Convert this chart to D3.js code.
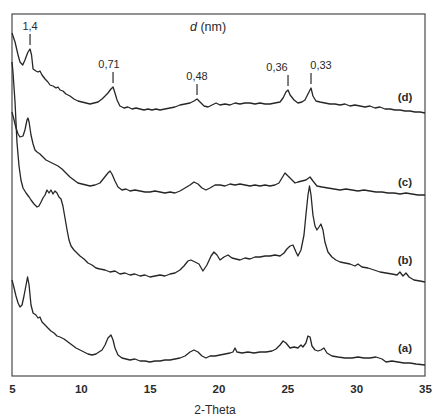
<!DOCTYPE html>
<html>
<head>
<meta charset="utf-8">
<script src="https://cdn.jsdelivr.net/npm/d3@7"></script>
<style>
  body { margin: 0; background: #fff; }
  text { font-family: "Liberation Sans", Arial, sans-serif; fill: #2a2a2a; }
</style>
</head>
<body>
<div id="chart"></div>
<script>
"use strict"

// 2-theta (deg) vs intensity (a.u., traces stacked as in the figure)
const traceA = [[5.00,96],[5.15,88],[5.29,80],[5.44,73],[5.58,69],[5.73,71],[5.87,80],[6.02,91],[6.13,99],[6.24,91],[6.38,71],[6.53,63],[6.74,61],[6.89,58],[7.03,59],[7.18,54],[7.40,51],[7.61,48],[7.83,45],[8.05,43],[8.27,40],[8.49,39],[8.78,37],[9.07,34],[9.36,31],[9.65,28],[9.94,26],[10.23,24],[10.52,22],[10.81,21],[11.10,22],[11.32,24],[11.54,26],[11.76,31],[11.97,38],[12.19,41],[12.34,36],[12.48,28],[12.70,21],[12.99,18],[13.28,17],[13.57,16],[13.93,17],[14.30,15],[14.66,15],[15.02,14],[15.39,15],[15.75,15],[16.11,16],[16.48,16],[16.84,17],[17.20,18],[17.57,20],[17.93,24],[18.22,26],[18.51,24],[18.80,20],[19.09,18],[19.38,20],[19.75,20],[20.11,21],[20.47,22],[20.84,23],[21.05,24],[21.20,28],[21.34,24],[21.71,23],[22.14,24],[22.58,23],[23.01,24],[23.45,24],[23.89,25],[24.18,27],[24.47,31],[24.69,35],[24.90,33],[25.20,28],[25.49,29],[25.77,28],[25.99,31],[26.13,29],[26.35,33],[26.50,40],[26.65,39],[26.79,30],[27.01,26],[27.23,25],[27.44,26],[27.66,28],[27.88,23],[28.24,20],[28.68,19],[29.19,18],[29.70,18],[30.13,19],[30.57,18],[31.00,18],[31.44,19],[31.88,17],[32.17,14],[32.60,15],[33.04,14],[33.47,13],[33.91,13],[34.34,12],[35.00,11]];

const traceB = [[5.00,314],[5.07,304],[5.15,288],[5.22,274],[5.29,254],[5.36,234],[5.44,221],[5.51,210],[5.65,196],[5.80,188],[6.02,183],[6.24,179],[6.38,176],[6.60,172],[6.82,169],[6.96,170],[7.11,174],[7.25,178],[7.40,181],[7.54,186],[7.69,183],[7.83,186],[7.98,182],[8.12,185],[8.27,183],[8.41,179],[8.56,177],[8.70,170],[8.85,158],[9.00,146],[9.14,136],[9.29,130],[9.50,126],[9.72,123],[9.94,120],[10.23,117],[10.52,113],[10.81,111],[11.10,108],[11.39,107],[11.76,106],[12.12,104],[12.48,105],[12.84,102],[13.21,103],[13.57,101],[13.93,102],[14.30,100],[14.66,101],[15.02,99],[15.39,100],[15.75,101],[16.11,100],[16.48,102],[16.84,103],[17.20,106],[17.49,110],[17.78,115],[18.00,116],[18.29,114],[18.58,112],[18.87,105],[19.16,111],[19.46,120],[19.67,124],[19.89,121],[20.11,116],[20.40,119],[20.69,121],[20.98,118],[21.27,117],[21.56,116],[21.92,118],[22.29,117],[22.65,119],[23.01,119],[23.38,120],[23.74,120],[24.10,121],[24.47,120],[24.76,123],[24.97,127],[25.20,130],[25.41,131],[25.63,124],[25.77,120],[25.99,126],[26.21,141],[26.35,161],[26.50,181],[26.61,190],[26.72,181],[26.86,161],[27.01,150],[27.15,146],[27.30,149],[27.44,152],[27.59,146],[27.73,134],[27.95,124],[28.24,119],[28.53,116],[28.83,114],[29.19,113],[29.55,112],[29.91,110],[30.13,112],[30.42,109],[30.86,108],[31.30,106],[31.73,104],[32.17,103],[32.60,102],[32.97,101],[33.18,104],[33.40,100],[33.62,103],[33.84,99],[34.20,96],[34.64,95],[35.00,94]];

const traceC = [[5.00,264],[5.15,256],[5.29,248],[5.44,242],[5.58,239],[5.80,240],[5.94,246],[6.09,256],[6.16,258],[6.24,254],[6.38,241],[6.53,232],[6.67,226],[6.82,224],[7.03,222],[7.25,219],[7.47,216],[7.76,214],[8.05,212],[8.34,210],[8.63,207],[8.92,203],[9.21,199],[9.50,196],[9.79,193],[10.08,192],[10.38,191],[10.67,190],[11.03,191],[11.39,193],[11.68,198],[11.97,203],[12.12,205],[12.26,202],[12.48,195],[12.70,189],[12.99,186],[13.28,187],[13.57,185],[13.93,186],[14.30,185],[14.66,184],[15.02,184],[15.39,185],[15.75,184],[16.11,183],[16.48,184],[16.84,183],[17.20,185],[17.57,188],[17.93,191],[18.22,194],[18.51,192],[18.80,188],[19.09,186],[19.38,188],[19.75,191],[20.11,191],[20.47,190],[20.84,192],[21.20,191],[21.56,192],[21.92,191],[22.29,190],[22.65,191],[23.01,190],[23.38,191],[23.74,190],[24.10,191],[24.39,193],[24.61,198],[24.83,203],[25.05,200],[25.34,196],[25.56,193],[25.77,194],[26.06,195],[26.35,196],[26.65,199],[26.86,195],[27.15,190],[27.52,189],[27.95,188],[28.39,187],[28.83,186],[29.26,187],[29.70,186],[30.13,185],[30.57,186],[31.00,185],[31.44,184],[31.88,184],[32.31,183],[32.75,183],[33.18,182],[33.62,183],[34.05,182],[34.49,181],[35.00,181]];

const traceD = [[5.00,343],[5.22,334],[5.44,321],[5.58,314],[5.78,311],[5.94,316],[6.16,324],[6.31,327],[6.42,321],[6.53,307],[6.74,305],[6.89,304],[7.03,305],[7.18,301],[7.40,297],[7.61,294],[7.76,291],[7.98,290],[8.20,288],[8.34,289],[8.49,286],[8.70,285],[8.92,282],[9.21,280],[9.50,277],[9.79,275],[10.08,274],[10.38,273],[10.67,272],[10.96,273],[11.25,274],[11.54,277],[11.76,280],[11.97,283],[12.19,287],[12.34,289],[12.48,283],[12.63,276],[12.84,270],[13.13,268],[13.42,269],[13.72,267],[14.01,268],[14.30,267],[14.59,266],[14.88,267],[15.17,266],[15.46,267],[15.75,266],[16.11,267],[16.48,268],[16.84,269],[17.20,271],[17.57,272],[17.93,273],[18.22,275],[18.44,277],[18.66,274],[18.95,270],[19.24,269],[19.53,271],[19.82,273],[20.11,271],[20.47,272],[20.84,271],[21.20,273],[21.56,272],[21.92,273],[22.29,273],[22.65,272],[23.01,273],[23.38,272],[23.74,272],[24.10,273],[24.47,274],[24.69,278],[24.90,284],[25.05,286],[25.20,281],[25.49,276],[25.77,273],[26.06,274],[26.28,276],[26.50,282],[26.72,288],[26.86,280],[27.08,275],[27.37,274],[27.73,273],[28.10,272],[28.46,272],[28.83,271],[29.19,272],[29.55,270],[29.91,271],[30.28,270],[30.64,269],[31.00,270],[31.37,268],[31.73,269],[32.09,267],[32.46,267],[32.82,266],[33.18,266],[33.55,265],[33.91,265],[34.27,264],[34.64,264],[35.00,263]];

const traceNames = ["(a)", "(b)", "(c)", "(d)"];
const traceLabelY = [28, 116, 194, 279];   // intensity level where each name sits

// d-spacing markers on trace (d): label, 2-theta
const dLabels = ["1,4", "0,71", "0,48", "0,36", "0,33"];
const dTheta = [6.31, 12.34, 18.44, 25.05, 26.72];
const dPeak = [327, 289, 277, 286, 288];
const dShift = [0, -4, 0, -11, 10];   // label offset from its tick, px

const xTicks = [5, 10, 15, 20, 25, 30, 35];

const W = 434, H = 417;
const margin = {top: 14, right: 9, bottom: 41, left: 12};

const svg = d3.select("#chart").append("svg")
  .attr("width", W)
  .attr("height", H);

const x = d3.scaleLinear().domain([5, 35]).range([margin.left, W - margin.right]);
const y = d3.scaleLinear().domain([0, 362]).range([H - margin.bottom, margin.top]);

// frame
svg.append("rect")
  .attr("x", x(5)).attr("y", y(362))
  .attr("width", x(35) - x(5)).attr("height", y(0) - y(362))
  .attr("fill", "none").attr("stroke", "#4a4a4a").attr("stroke-width", 1.2);

// x axis labels
svg.append("g")
  .attr("transform", `translate(0,${y(0)})`)
  .call(d3.axisBottom(x).tickValues(xTicks).tickSize(0).tickPadding(9))
  .call(g => g.select(".domain").remove())
  .call(g => g.selectAll("text")
    .style("font-size", "11.5px")
    .style("font-weight", "bold")
    .attr("fill", "#2a2a2a"));

svg.append("text")
  .attr("x", 215).attr("y", 414)
  .attr("text-anchor", "middle")
  .style("font-size", "12px")
  .text("2-Theta");

const line = d3.line()
  .x(d => x(d[0]))
  .y(d => y(d[1]));

[traceA, traceB, traceC, traceD].forEach((tr, i) => {
  svg.append("path")
    .datum(tr)
    .attr("d", line)
    .attr("fill", "none")
    .attr("stroke", "#262626")
    .attr("stroke-width", 1.3)
    .attr("stroke-linejoin", "round");

  svg.append("text")
    .attr("x", 405).attr("y", y(traceLabelY[i]) + 4)
    .attr("text-anchor", "middle")
    .style("font-size", "11.5px")
    .style("font-weight", "bold")
    .text(traceNames[i]);
});

// d-spacing markers
dLabels.forEach((lab, i) => {
  const px = x(dTheta[i]);
  const top = y(dPeak[i]) - 4;
  svg.append("line")
    .attr("x1", px).attr("x2", px)
    .attr("y1", top).attr("y2", top - 11)
    .attr("stroke", "#2a2a2a").attr("stroke-width", 1.2);
  svg.append("text")
    .attr("x", px + dShift[i]).attr("y", top - 15)
    .attr("text-anchor", "middle")
    .style("font-size", "11px")
    .text(lab);
});

svg.append("text")
  .attr("x", 190).attr("y", 31)
  .style("font-size", "12.5px")
  .html('<tspan font-style="italic">d</tspan> (nm)');
</script>
</body>
</html>
